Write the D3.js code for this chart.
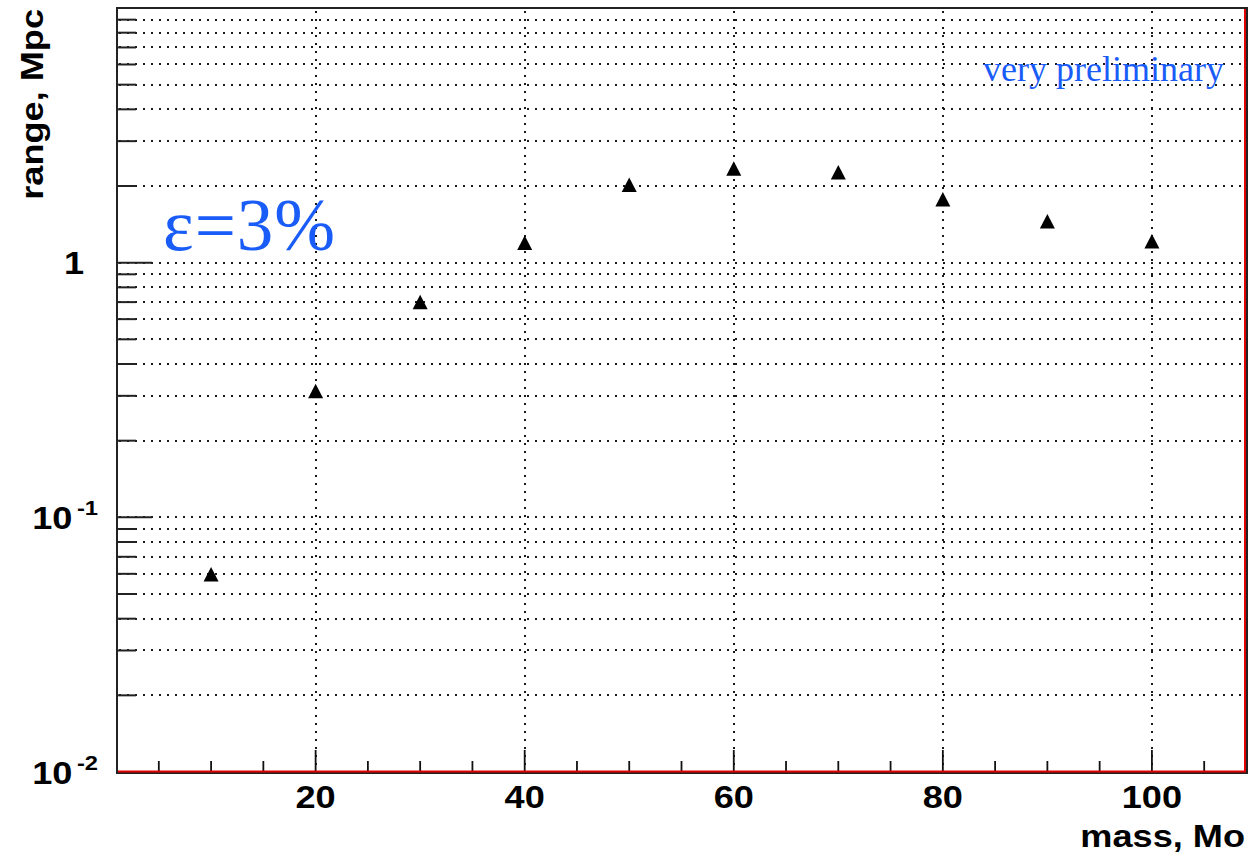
<!DOCTYPE html>
<html>
<head>
<meta charset="utf-8">
<script src="https://cdn.jsdelivr.net/npm/d3@7"></script>
<style>
  html, body { margin: 0; padding: 0; background: #fff; }
  svg { display: block; }
</style>
</head>
<body>
<svg id="chart" width="1250" height="856"></svg>
<script>
// ---- data ----
const masses = [10, 20, 30, 40, 50, 60, 70, 80, 90, 100];
const ranges = [0.0596, 0.313, 0.699, 1.195, 2.02, 2.34, 2.26, 1.77, 1.45, 1.21];
const xMajorTicks = [20, 40, 60, 80, 100];
const xTickLabels = ["20", "40", "60", "80", "100"];
const yMajorTicks = [0.01, 0.1, 1];
const yTickBase = ["10", "10", "1"];
const yTickExp = ["-2", "-1", ""];
const xTitle = "mass, Mo";
const yTitle = "range, Mpc";
const noteText = "very preliminary";
const epsText = "\u03b5=3%";

// ---- layout ----
const L = 117, R = 1246, T = 8, B = 772;
const svg = d3.select("#chart");
const x = d3.scaleLinear().domain([1, 109]).range([L, R]);
const y = d3.scaleLog().domain([0.01, 10]).range([B, T]);

// minor ticks
const xMinor = d3.range(5, 109, 5).filter(v => !xMajorTicks.includes(v));
const yAll = [];
[0.01, 0.1, 1].forEach(d => { for (let k = 1; k <= 9; k++) { const v = d * k; if (v > 0.01 * 1.0001 && v < 10 * 0.9999) yAll.push(+v.toPrecision(3)); } });
const yMinor = yAll.filter(v => !yMajorTicks.some(m => Math.abs(m - v) < 1e-9));

const gridStyle = g => g.attr("stroke", "#1a1a1a").attr("stroke-width", 2)
  .attr("stroke-dasharray", "2,6").attr("fill", "none");

// horizontal grid (all y ticks)
svg.append("g").call(gridStyle)
  .selectAll("line").data(yAll).join("line")
  .attr("x1", L + 2).attr("x2", R - 2)
  .attr("y1", d => Math.round(y(d))).attr("y2", d => Math.round(y(d)));

// vertical grid (major x)
svg.append("g").call(gridStyle)
  .selectAll("line").data(xMajorTicks).join("line")
  .attr("y1", T + 3).attr("y2", B)
  .attr("x1", d => Math.round(x(d))).attr("x2", d => Math.round(x(d)));

// y ticks
svg.append("g").attr("stroke", "#222").attr("stroke-width", 2)
  .selectAll("line").data(yMajorTicks.filter(v => v > 0.01)).join("line")
  .attr("x1", L).attr("x2", L + 35)
  .attr("y1", d => y(d)).attr("y2", d => y(d));
svg.append("g").attr("stroke", "#222").attr("stroke-width", 2)
  .selectAll("line").data(yMinor).join("line")
  .attr("x1", L).attr("x2", L + 19)
  .attr("y1", d => y(d)).attr("y2", d => y(d));

// x ticks
svg.append("g").attr("stroke", "#111").attr("stroke-width", 1.8)
  .selectAll("line").data(xMajorTicks).join("line")
  .attr("y1", B).attr("y2", B - 22)
  .attr("x1", d => x(d)).attr("x2", d => x(d));
svg.append("g").attr("stroke", "#111").attr("stroke-width", 1.8)
  .selectAll("line").data(xMinor).join("line")
  .attr("y1", B).attr("y2", B - 11)
  .attr("x1", d => x(d)).attr("x2", d => x(d));

// frame
svg.append("rect").attr("x", L).attr("y", T).attr("width", R - L + 1).attr("height", B - T + 1)
  .attr("fill", "none").attr("stroke", "#222").attr("stroke-width", 2);
svg.append("line").attr("x1", R - 1).attr("x2", R - 1).attr("y1", T + 1).attr("y2", B)
  .attr("stroke", "#e00000").attr("stroke-width", 2);
svg.append("line").attr("x1", L + 1).attr("x2", R).attr("y1", B - 0.5).attr("y2", B - 0.5)
  .attr("stroke", "#e00000").attr("stroke-width", 2);

// markers (triangles centred on their box)
svg.append("g").selectAll("path").data(masses).join("path")
  .attr("transform", (d, i) => `translate(${x(d)},${y(ranges[i])})`)
  .attr("d", "M0,-7.5 L7.5,7 L-7.5,7 Z")
  .attr("fill", "#000");

const font = "'Liberation Sans', Arial, Helvetica, sans-serif";
const SX = 1.13;

// x tick labels
svg.append("g").selectAll("g").data(xMajorTicks).join("g")
  .attr("transform", d => `translate(${x(d)},808) scale(${SX},1)`)
  .append("text")
  .attr("text-anchor", "middle")
  .attr("font-family", font).attr("font-weight", "bold").attr("font-size", 32)
  .attr("fill", "#000")
  .text((d, i) => xTickLabels[i]);

// y tick labels
const yl = svg.append("g").selectAll("g").data(yMajorTicks).join("g")
  .attr("transform", (d, i) => `translate(${yTickExp[i] ? 98 : 84},${y(d) + 11.5}) scale(${SX},1)`)
  .append("text")
  .attr("text-anchor", "end")
  .attr("font-family", font).attr("font-weight", "bold").attr("font-size", 32)
  .attr("fill", "#000");
yl.append("tspan").text((d, i) => yTickBase[i]);
yl.filter((d, i) => yTickExp[i] !== "").append("tspan")
  .attr("font-size", 21).attr("dx", 4).attr("dy", -14)
  .text(d => yTickExp[yMajorTicks.indexOf(d)]);

// axis titles
svg.append("g").attr("transform", `translate(1245,847) scale(${SX},1)`)
  .append("text").attr("text-anchor", "end")
  .attr("font-family", font).attr("font-weight", "bold").attr("font-size", 32)
  .attr("fill", "#000").text(xTitle);
svg.append("g").attr("transform", `translate(43,9) rotate(-90) scale(${SX},1)`)
  .append("text").attr("text-anchor", "end")
  .attr("font-family", font).attr("font-weight", "bold").attr("font-size", 32)
  .attr("fill", "#000").text(yTitle);

// annotations
const blue = "#1a5cf8";
svg.append("text").attr("x", 1224).attr("y", 81).attr("text-anchor", "end")
  .attr("font-family", "'Liberation Serif', 'Times New Roman', serif").attr("font-size", 36)
  .attr("fill", blue).text(noteText);
svg.append("text").attr("x", 163).attr("y", 250)
  .attr("font-family", "'Liberation Serif', 'Times New Roman', serif").attr("font-size", 73)
  .attr("letter-spacing", 1)
  .attr("fill", blue).text(epsText);
</script>
</body>
</html>
